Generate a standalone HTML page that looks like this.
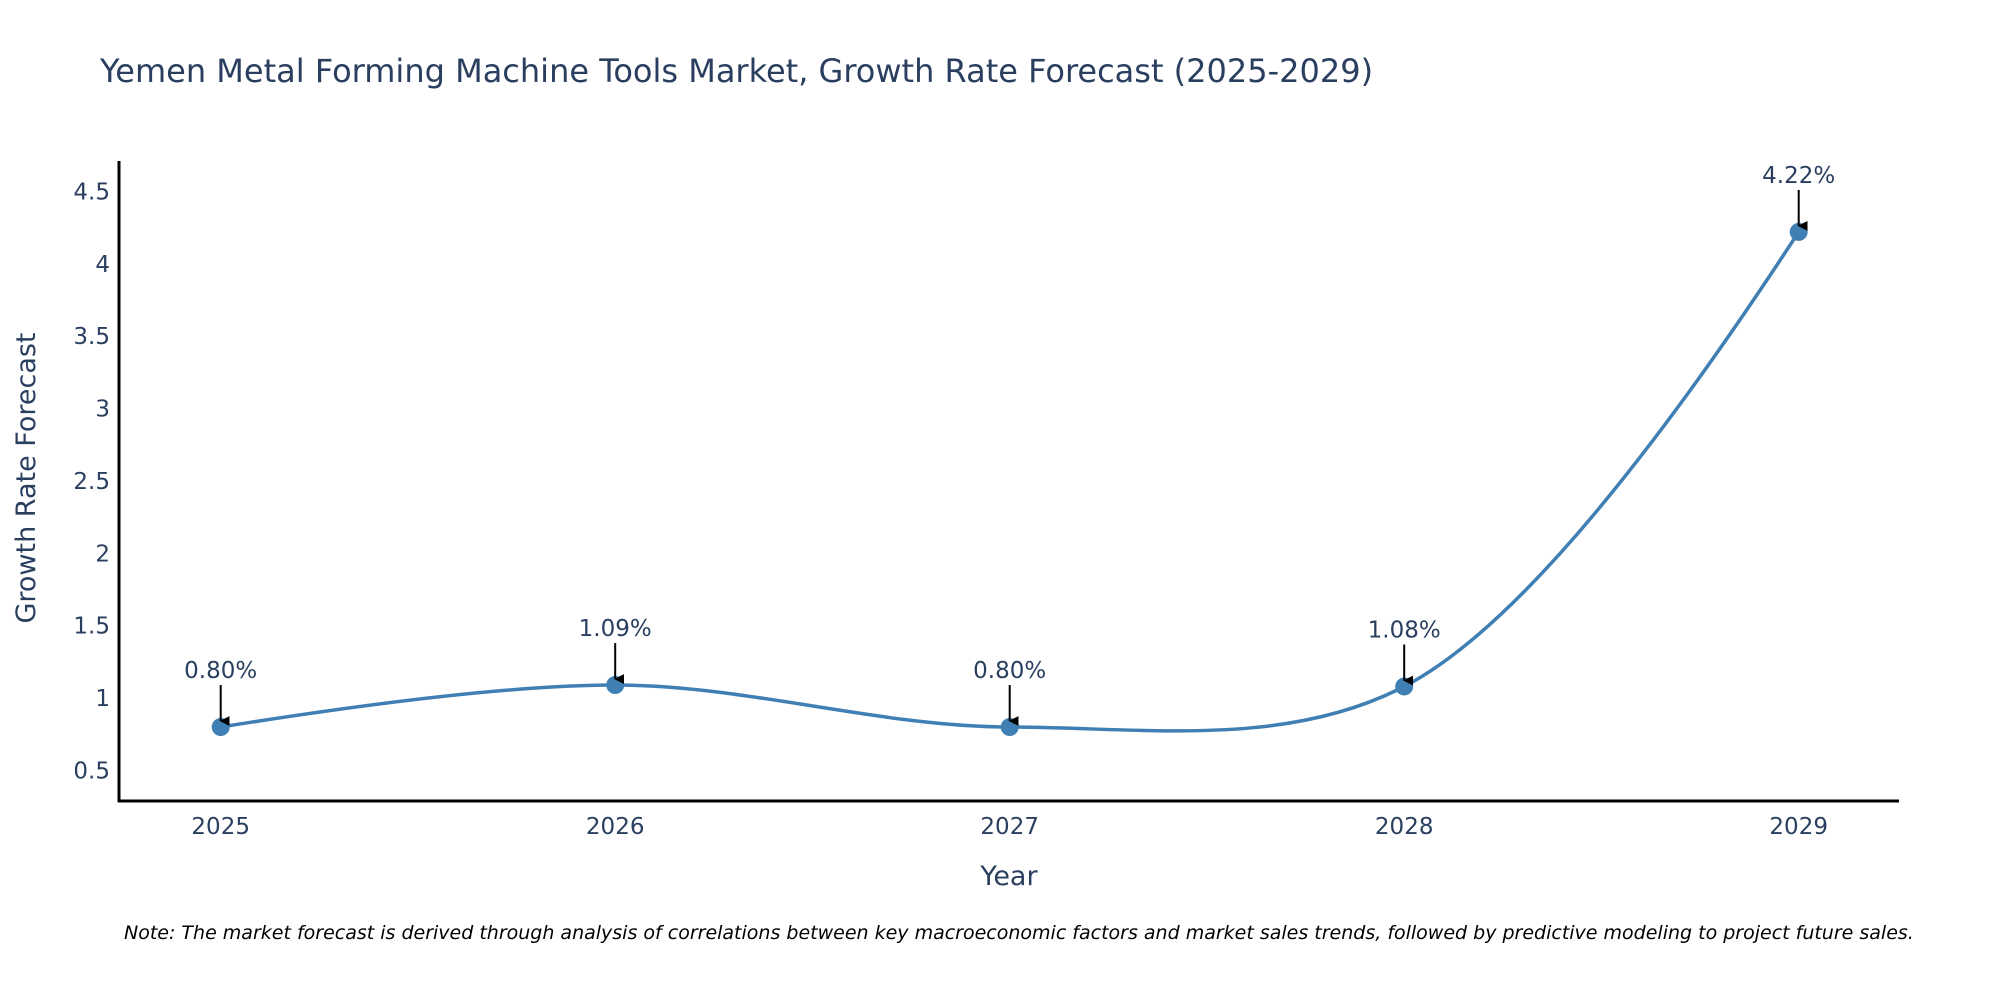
<!DOCTYPE html>
<html><head><meta charset="utf-8"><style>
body{margin:0;background:#fff;}
svg text{font-family:"DejaVu Sans","Liberation Sans",sans-serif;}
</style></head><body>
<svg id="chart" width="2000" height="1000" xmlns="http://www.w3.org/2000/svg">
<defs><marker id="ah" viewBox="0 0 10 10" refX="5" refY="9" markerWidth="5" markerHeight="5" orient="auto-start-reverse"><path d="M0,0 L10,0 L5,10 z" fill="#000"/></marker></defs>
<text x="100" y="82" font-size="32" fill="#2a3f5f">Yemen Metal Forming Machine Tools Market, Growth Rate Forecast (2025-2029)</text>
<g id="yticks"></g><g id="xticks"></g>
<line x1="119" y1="161" x2="119" y2="802" stroke="#000" stroke-width="3"/>
<line x1="118" y1="801" x2="1899" y2="801" stroke="#000" stroke-width="3"/>
<path id="line" fill="none" stroke="#3f7fb3" stroke-width="3.5"/>
<g id="marks"></g>
<text x="1009" y="885" font-size="27" fill="#2a3f5f" text-anchor="middle">Year</text>
<text transform="translate(35,478) rotate(-90)" font-size="27" fill="#2a3f5f" text-anchor="middle">Growth Rate Forecast</text>
<text x="124" y="939" font-size="19" font-style="italic" fill="#000">Note: The market forecast is derived through analysis of correlations between key macroeconomic factors and market sales trends, followed by predictive modeling to project future sales.</text>
</svg>
<script>
const categories = ["2025","2026","2027","2028","2029"];
const values = [0.80, 1.09, 0.80, 1.08, 4.22];
const labels = ["0.80%","1.09%","0.80%","1.08%","4.22%"];
const yTicks = [0.5,1,1.5,2,2.5,3,3.5,4,4.5];
const yTickLabels = ["0.5","1","1.5","2","2.5","3","3.5","4","4.5"];
const NS="http://www.w3.org/2000/svg";
const yMin=0.289,yMax=4.71, plotTop=161,plotBot=801;
function Y(v){return plotBot-(v-yMin)/(yMax-yMin)*(plotBot-plotTop);}
function X(i){return 220.7+i*394.5;}
function mk(t,a,p){const e=document.createElementNS(NS,t);for(const k in a)e.setAttribute(k,a[k]);p.appendChild(e);return e;}
const yt=document.getElementById('yticks');
yTicks.forEach((v,i)=>{const t=mk('text',{x:110,y:Y(v)+8,'font-size':23,fill:'#2a3f5f','text-anchor':'end'},yt);


t.textContent=yTickLabels[i];});
const xt=document.getElementById('xticks');
categories.forEach((c,i)=>{const t=mk('text',{x:X(i),y:834,'font-size':23,fill:'#2a3f5f','text-anchor':'middle'},xt);


t.textContent=c;});
const pts=values.map((v,i)=>[X(i),Y(v)]);
function tang(p,c,n,s){const d1x=p[0]-c[0],d1y=p[1]-c[1],d2x=n[0]-c[0],d2y=n[1]-c[1];
const d1a=Math.pow(d1x*d1x+d1y*d1y,0.25),d2a=Math.pow(d2x*d2x+d2y*d2y,0.25);
const nx=(d2a*d2a*d1x-d1a*d1a*d2x)*s,ny=(d2a*d2a*d1y-d1a*d1a*d2y)*s;
const de1=3*d2a*(d1a+d2a),de2=3*d1a*(d1a+d2a);
return [[c[0]+nx/de1,c[1]+ny/de1],[c[0]-nx/de2,c[1]-ny/de2]];}
const tg=[];for(let i=1;i<pts.length-1;i++)tg.push(tang(pts[i-1],pts[i],pts[i+1],1));
let d='M'+pts[0]+'Q'+tg[0][0]+' '+pts[1];
for(let i=1;i<pts.length-2;i++)d+='C'+tg[i-1][1]+' '+tg[i][0]+' '+pts[i+1];
d+='Q'+tg[tg.length-1][1]+' '+pts[pts.length-1];
document.getElementById('line').setAttribute('d',d);
const mg=document.getElementById('marks');
pts.forEach((p,i)=>{
const c=mk('circle',{cx:p[0],cy:p[1],r:9,fill:'#3f7fb3'},mg);


const l=mk('line',{x1:p[0],y1:p[1]-42,x2:p[0],y2:p[1]-6,stroke:'#000','stroke-width':2,'marker-end':'url(#ah)'},mg);


const t=mk('text',{x:p[0],y:p[1]-49,'font-size':23,fill:'#2a3f5f','text-anchor':'middle'},mg);


t.textContent=labels[i];});
</script>
</body></html>
